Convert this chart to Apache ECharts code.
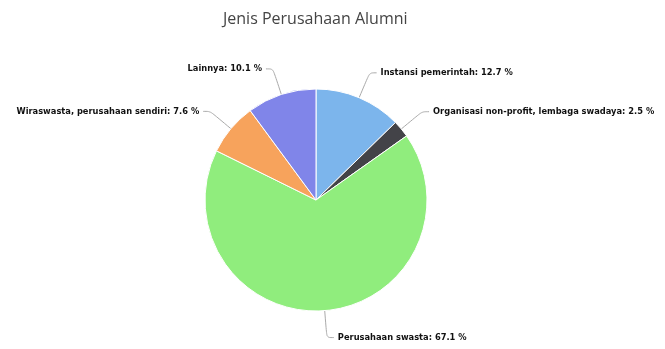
<!DOCTYPE html>
<html><head><meta charset="utf-8">
<script src="https://cdn.jsdelivr.net/npm/echarts@6/dist/echarts.min.js"></script>
<style>html,body{margin:0;padding:0;background:#fff}#c{width:665px;height:349px}</style>
</head><body><div id="c"></div>
<script>
const titleText = 'Jenis Perusahaan Alumni';
const categories = ['Instansi pemerintah', 'Organisasi non-profit, lembaga swadaya', 'Perusahaan swasta', 'Wiraswasta, perusahaan sendiri', 'Lainnya'];
const values = [12.7, 2.5, 67.1, 7.6, 10.1];
const colors = ['#7cb5ec', '#434348', '#90ed7d', '#f7a35c', '#8085e9'];

const chart = echarts.init(document.getElementById('c'), null, {renderer: 'canvas'});
chart.setOption({
  animation: false,
  backgroundColor: '#fff',
  title: {
    text: titleText, left: 218, top: 6,
    textStyle: {fontFamily: 'Open Sans', fontSize: 16, fontWeight: 'normal', color: '#444'}
  },
  series: [{
    type: 'pie',
    center: [316, 200],
    radius: 111,
    startAngle: 90,
    clockwise: true,
    color: colors,
    itemStyle: {borderColor: '#fff', borderWidth: 1},
    label: {
      show: true,
      formatter: p => p.name + ': ' + p.value.toFixed(1) + ' %',
      fontFamily: 'DejaVu Sans', fontSize: 8.3, fontWeight: 'bold', color: '#111',
      distanceToLabelLine: 4
    },
    labelLine: {show: true, length: 27, length2: 7, smooth: true, lineStyle: {color: '#aaa', width: 1}},
    data: categories.map((n, i) => ({name: n, value: values[i]}))
  }]
});
</script></body></html>
